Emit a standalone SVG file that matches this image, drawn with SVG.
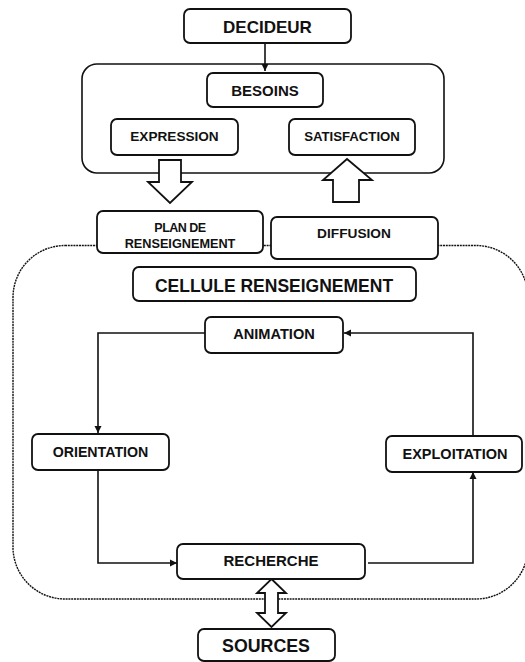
<svg xmlns="http://www.w3.org/2000/svg" width="525" height="662" viewBox="0 0 525 662">
<style>
  .box { fill: #fff; stroke: #111; stroke-width: 1.8; }
  .grp { fill: none; stroke: #111; stroke-width: 1.6; }
  .cell { fill: none; stroke: #111; stroke-width: 1.4; stroke-dasharray: 2 0.8; }
  .conn { fill: none; stroke: #111; stroke-width: 1.6; }
  .blk { fill: #fff; stroke: #111; stroke-width: 1.8; stroke-linejoin: miter; }
  text { font-family: "Liberation Sans", Arial, sans-serif; font-weight: bold; fill: #111; text-anchor: middle; }
</style>
<defs>
  <marker id="ah" markerUnits="userSpaceOnUse" markerWidth="8" markerHeight="8" refX="7" refY="4" orient="auto">
    <path d="M0,0.5 L7,4 L0,7.5 z" fill="#111"/>
  </marker>
</defs>
<rect width="525" height="662" fill="#fff"/>

<g id="cellule-zone">
  <rect class="cell" x="13" y="245.5" width="515" height="353.5" rx="52" ry="52"/>
</g>

<g id="besoins-zone">
  <rect class="grp" x="82" y="64" width="362" height="109" rx="15" ry="15"/>
</g>

<g id="connectors">
  <path class="conn" d="M265,43 V71" marker-end="url(#ah)"/>
  <path class="conn" d="M205,333 H98 V433" marker-end="url(#ah)"/>
  <path class="conn" d="M473,436 V333 H344" marker-end="url(#ah)"/>
  <path class="conn" d="M98,470 V563 H177" marker-end="url(#ah)"/>
  <path class="conn" d="M368,563 H473 V472" marker-end="url(#ah)"/>
  <polygon class="blk" points="159,160 181,160 181,182 192,182 170,203 148,182 159,182"/>
  <polygon class="blk" points="347,159 372,180 359,180 359,202 333,202 333,180 323,180"/>
  <polygon class="blk" points="271.5,579 286,593 278,593 278,613 286,613 271.5,627 257,613 265,613 265,593 257,593"/>
</g>

<g id="decideur">
  <rect class="box" x="184" y="9" width="167" height="34" rx="6"/>
  <text x="267.5" y="33" font-size="17">DECIDEUR</text>
</g>
<g id="besoins">
  <rect class="box" x="207" y="73" width="116" height="34" rx="6"/>
  <text x="265" y="96" font-size="15">BESOINS</text>
</g>
<g id="expression">
  <rect class="box" x="111" y="119" width="127" height="36" rx="6"/>
  <text x="174.5" y="141" font-size="13.6">EXPRESSION</text>
</g>
<g id="satisfaction">
  <rect class="box" x="289" y="119" width="126" height="36" rx="6"/>
  <text x="352" y="141" font-size="13.2">SATISFACTION</text>
</g>
<g id="plan">
  <rect class="box" x="97" y="211" width="166" height="42" rx="6"/>
  <text x="180" y="232" font-size="12.5" letter-spacing="-0.5">PLAN DE</text>
  <text x="180" y="248" font-size="12.7">RENSEIGNEMENT</text>
</g>
<g id="diffusion">
  <rect class="box" x="271" y="217" width="167" height="42" rx="6"/>
  <text x="354" y="238" font-size="13.7">DIFFUSION</text>
</g>
<g id="cellule">
  <rect class="box" x="133" y="267" width="283" height="34" rx="6"/>
  <text x="274" y="292" font-size="17.5">CELLULE RENSEIGNEMENT</text>
</g>
<g id="animation">
  <rect class="box" x="205" y="317" width="138" height="36" rx="6"/>
  <text x="274" y="339" font-size="14.6">ANIMATION</text>
</g>
<g id="orientation">
  <rect class="box" x="32" y="434" width="137" height="36" rx="6"/>
  <text x="100.5" y="457" font-size="14.2">ORIENTATION</text>
</g>
<g id="exploitation">
  <rect class="box" x="386" y="436" width="136" height="36" rx="6"/>
  <text x="455" y="459" font-size="14.5">EXPLOITATION</text>
</g>
<g id="recherche">
  <rect class="box" x="177" y="544" width="188" height="35" rx="6"/>
  <text x="271" y="566" font-size="15">RECHERCHE</text>
</g>
<g id="sources">
  <rect class="box" x="198" y="629" width="137" height="32" rx="6"/>
  <text x="266" y="652" font-size="17.8">SOURCES</text>
</g>
</svg>
